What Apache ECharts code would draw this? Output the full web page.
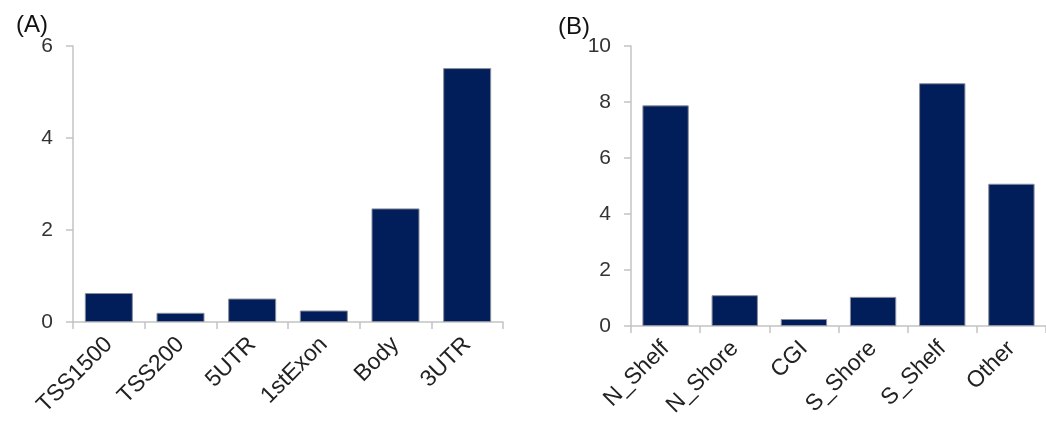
<!DOCTYPE html>
<html>
<head>
<meta charset="utf-8">
<script src="https://cdn.jsdelivr.net/npm/echarts@6/dist/echarts.min.js"></script>
<style>
  html, body { margin: 0; padding: 0; background: #fff; }
  #chart { width: 1046px; height: 421px; }
</style>
</head>
<body>
<div id="chart"></div>
<script>
// panel A: gene region
const regionCats = ['TSS1500', 'TSS200', '5UTR', '1stExon', 'Body', '3UTR'];
const regionVals = [0.63, 0.2, 0.51, 0.25, 2.47, 5.52];
// panel B: CpG island relation
const islandCats = ['N_Shelf', 'N_Shore', 'CGI', 'S_Shore', 'S_Shelf', 'Other'];
const islandVals = [7.88, 1.1, 0.25, 1.04, 8.67, 5.08];

const axisGrey = '#c3c3c3';
const barColor = '#021e5a';
const font = 'Liberation Sans, Arial, sans-serif';

function catAxis(idx, cats) {
  return {
    type: 'category',
    gridIndex: idx,
    data: cats,
    axisLine: { lineStyle: { color: axisGrey, width: 1.5 } },
    axisTick: { show: true, length: 7, lineStyle: { color: axisGrey, width: 1.5 } },
    axisLabel: {
      rotate: 45,
      margin: 19,
      color: '#222',
      fontSize: 23,
      fontFamily: font
    }
  };
}

function valAxis(idx, max, step) {
  return {
    type: 'value',
    gridIndex: idx,
    min: 0,
    max: max,
    interval: step,
    splitLine: { show: false },
    axisLine: { show: true, lineStyle: { color: axisGrey, width: 1.5 } },
    axisTick: { show: true, length: 7, lineStyle: { color: axisGrey, width: 1.5 } },
    axisLabel: {
      margin: 20,
      color: '#333',
      fontSize: 21,
      fontFamily: font
    }
  };
}

const myChart = echarts.init(document.getElementById('chart'));
myChart.setOption({
  animation: false,
  title: [
    { text: '(A)', left: 11, top: 8, textStyle: { fontSize: 24, fontWeight: 'normal', color: '#111', fontFamily: font } },
    { text: '(B)', left: 553, top: 10, textStyle: { fontSize: 24, fontWeight: 'normal', color: '#111', fontFamily: font } }
  ],
  grid: [
    { left: 73, top: 46, width: 430, height: 276 },
    { left: 631, top: 46, width: 420, height: 280 }
  ],
  xAxis: [catAxis(0, regionCats), catAxis(1, islandCats)],
  yAxis: [valAxis(0, 6, 2), valAxis(1, 10, 2)],
  series: [
    {
      type: 'bar',
      xAxisIndex: 0,
      yAxisIndex: 0,
      data: regionVals,
      barWidth: '67%',
      itemStyle: { color: barColor, borderColor: '#8a8f9c', borderWidth: 1 }
    },
    {
      type: 'bar',
      xAxisIndex: 1,
      yAxisIndex: 1,
      data: islandVals,
      barWidth: '67%',
      itemStyle: { color: barColor, borderColor: '#8a8f9c', borderWidth: 1 }
    }
  ]
});
</script>
</body>
</html>
